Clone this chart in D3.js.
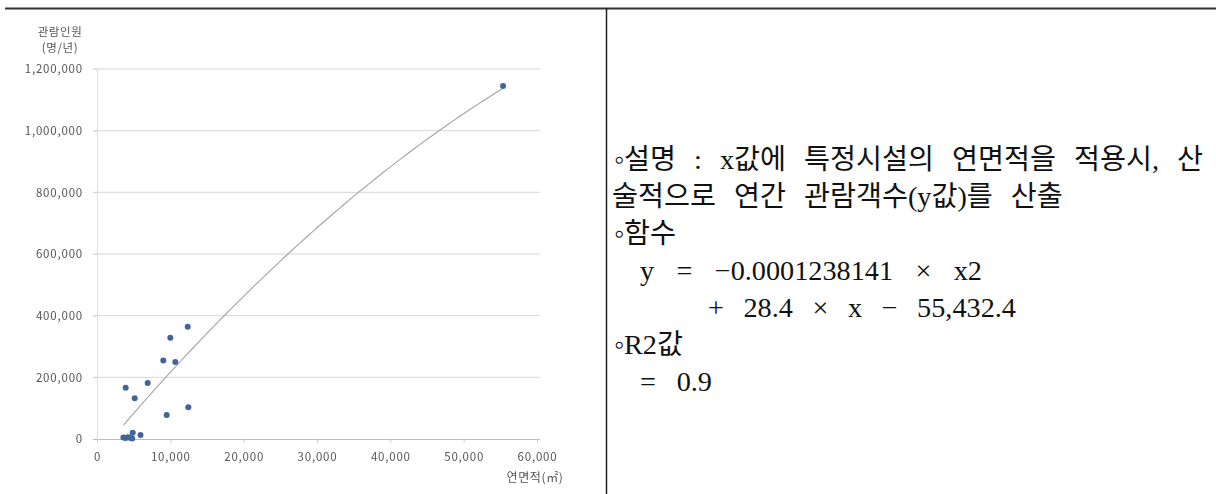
<!DOCTYPE html>
<html>
<head>
<meta charset="utf-8">
<script src="https://cdn.jsdelivr.net/npm/d3@7"></script>
<style>
  html, body { margin: 0; padding: 0; background: #fff; }
  svg { display: block; }
</style>
</head>
<body>
<svg id="page" width="1216" height="494"></svg>
<script>
// Floor area (㎡) and annual visitors (명/년) for each facility
const floorArea = [55370, 12370, 10000, 9040, 10680, 6910, 3910, 5140, 12450, 9500, 4870, 5930, 3600, 3900, 4200, 4500, 4800];
const visitors  = [1144900, 364200, 328000, 255000, 250000, 182000, 166000, 132000, 103000, 78000, 20000, 13000, 5000, 3000, 6000, 4000, 2000];

const xTicks = [0, 10000, 20000, 30000, 40000, 50000, 60000];
const yTicks = [0, 200000, 400000, 600000, 800000, 1000000, 1200000];

const yTitle = ["관람인원", "(명/년)"];
const xTitle = "연면적(㎡)";

// Quadratic trend: y = a·x² + b·x + c
const trendCoef = [-0.0001238141, 28.4, -55432.4];

// Explanatory notes in the right-hand cell
const noteLines = [
  "◦설명 : x값에 특정시설의 연면적을 적용시, 산",
  "술적으로 연간 관람객수(y값)를 산출",
  "◦함수",
  "y = −0.0001238141 × x2",
  "+ 28.4 × x − 55,432.4",
  "◦R2값",
  "= 0.9"
];

const svg = d3.select("#page");

// frame: top rule and the cell divider
svg.append("line").attr("x1", 5).attr("x2", 1216).attr("y1", 8.5).attr("y2", 8.5)
  .attr("stroke", "#333").attr("stroke-width", 2);
svg.append("line").attr("x1", 606.5).attr("x2", 606.5).attr("y1", 8).attr("y2", 494)
  .attr("stroke", "#222").attr("stroke-width", 1.5);

// soft look of the embedded chart image
const defs = svg.append("defs");
defs.append("filter").attr("id", "soft")
  .append("feGaussianBlur").attr("stdDeviation", 0.5);

const chart = svg.append("g").attr("filter", "url(#soft)");

const x = d3.scaleLinear().domain([0, 60000]).range([97, 537]);
const y = d3.scaleLinear().domain([0, 1200000]).range([439, 69]);

const labelFont = "'Noto Sans CJK KR', 'Noto Sans', sans-serif";
const labelColor = "#555";

// horizontal gridlines
chart.append("g").selectAll("line").data(yTicks.filter(d => d > 0)).join("line")
  .attr("x1", 93).attr("x2", 540)
  .attr("y1", d => y(d)).attr("y2", d => y(d))
  .attr("stroke", "#d6d6d6").attr("stroke-width", 1);

// y axis
const yAxis = chart.append("g").attr("transform", `translate(${x(0)},0)`)
  .call(d3.axisLeft(y).tickValues(yTicks).tickFormat(d3.format(",")).tickSize(4).tickPadding(10));
yAxis.select(".domain").attr("stroke", "#dcdcdc");
yAxis.selectAll(".tick line").attr("stroke", "#d6d6d6");
yAxis.selectAll("text").attr("fill", labelColor).style("font-family", labelFont)
  .style("font-size", "11.5px").style("letter-spacing", "0.8px");

// x axis
const xAxis = chart.append("g").attr("transform", `translate(0,${y(0)})`)
  .call(d3.axisBottom(x).tickValues(xTicks).tickFormat(d3.format(",")).tickSize(4).tickPadding(10));
xAxis.select(".domain").attr("stroke", "#bdbdbd").attr("d", "M93,0.5H540");
xAxis.selectAll(".tick line").attr("stroke", "#d0d0d0");
xAxis.selectAll("text").attr("fill", labelColor).style("font-family", labelFont)
  .style("font-size", "11.5px").style("letter-spacing", "0.8px");

// axis titles
chart.append("text").attr("x", 60).attr("y", 36).attr("text-anchor", "middle")
  .attr("fill", labelColor).style("font-family", labelFont).style("font-size", "11.5px")
  .style("letter-spacing", "0.6px")
  .selectAll("tspan").data(yTitle).join("tspan")
  .attr("x", 60).attr("dy", (d, i) => i === 0 ? 0 : 16).text(d => d);
chart.append("text").attr("x", 535).attr("y", 482).attr("text-anchor", "middle")
  .attr("fill", labelColor).style("font-family", labelFont).style("font-size", "12px")
  .style("letter-spacing", "0.6px")
  .text(xTitle);

// trend curve across the observed range
const [a, b, c] = trendCoef;
const xr = d3.extent(floorArea);
const trendPts = d3.range(0, 61).map(i => {
  const xv = xr[0] + (xr[1] - xr[0]) * i / 60;
  return [xv, a * xv * xv + b * xv + c];
});
chart.append("path").datum(trendPts)
  .attr("d", d3.line().x(d => x(d[0])).y(d => y(d[1])))
  .attr("fill", "none").attr("stroke", "#a3a3a3").attr("stroke-width", 1.1);

// data points
chart.append("g").selectAll("circle").data(d3.zip(floorArea, visitors)).join("circle")
  .attr("cx", d => x(d[0])).attr("cy", d => y(d[1])).attr("r", 3)
  .attr("fill", "#41659a");

// ---- notes ----
const noteFont = "'Liberation Serif', 'Noto Sans CJK KR', serif";
const notes = svg.append("g").style("font-family", noteFont).attr("fill", "#111");

// size the text so a Hangul syllable advances 26px
const probe = notes.append("text").style("font-size", "100px").text("가나다라마바사아자차");
const hanAdv = probe.node().getComputedTextLength() / 10 / 100;
probe.text("가 가");
const withSpace = probe.node().getComputedTextLength();
probe.text("가가");
const spaceEm = (withSpace - probe.node().getComputedTextLength()) / 100;
probe.remove();

const fs = 26 / hanAdv;
const baseGap = 18;                       // px between words
const ws = baseGap - spaceEm * fs;
notes.style("font-size", fs + "px");

// start x of each line, and the right edge for lines that are stretched
const lineStart = [614, 612, 614, 640, 708, 614, 640];
const lineEnd   = [1203, null, null, 982, 1016, null, 712];

noteLines.forEach((t, i) => {
  const el = notes.append("text")
    .attr("x", lineStart[i])
    .attr("y", 169 + i * 37)
    .style("word-spacing", ws + "px")
    .text(t);
  if (lineEnd[i] !== null) {
    const w = el.node().getComputedTextLength();
    const gaps = t.split(" ").length - 1;
    if (gaps > 0) {
      const extra = (lineEnd[i] - lineStart[i] - w) / gaps;
      el.style("word-spacing", (ws + extra) + "px");
    }
  }
});
</script>
</body>
</html>
